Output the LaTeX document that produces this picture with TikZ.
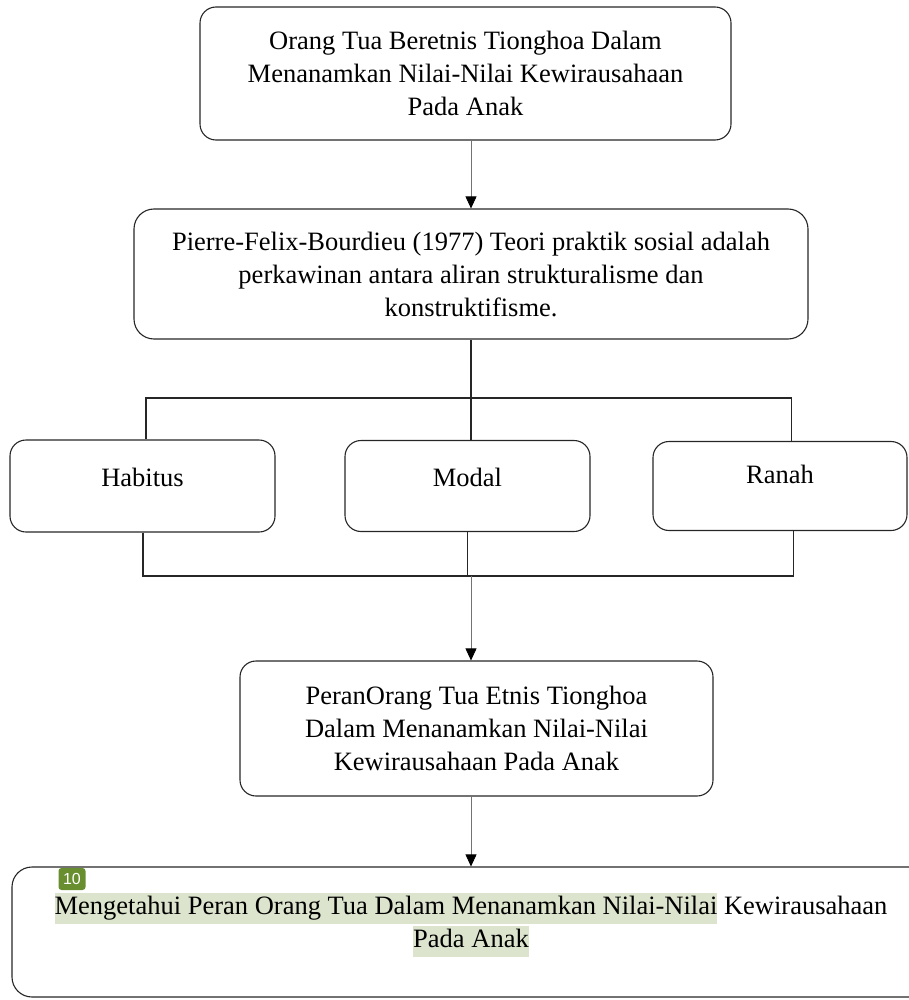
\documentclass[tikz,border=0pt]{standalone}
\usepackage{fontspec}
\setmainfont{Liberation Serif}
\newfontfamily\badgefont{Liberation Sans}
\usepackage{xcolor}
\usetikzlibrary{positioning,arrows.meta}

\definecolor{hlgreen}{RGB}{220,228,205}
\definecolor{badgegreen}{RGB}{104,142,48}
\newcommand{\hlmark}[1]{{\setlength{\fboxsep}{0pt}\colorbox{hlgreen}{\vrule height 22pt depth 9pt width 0pt #1}}}

\tikzset{
  box/.style={draw=black!85, line width=1.1pt, rounded corners=16pt, align=center, inner sep=0pt},
  link/.style={draw=black!55, line width=0.7pt, -{Triangle[length=12pt,width=11pt,color=black]}},
  bus/.style={draw=black!85, line width=1.1pt},
  badge/.style={fill=badgegreen, text=white, rounded corners=3pt, minimum width=27pt, minimum height=22pt, inner sep=0pt, font=\badgefont\fontsize{16}{16}\selectfont}
}

\begin{document}
\begin{tikzpicture}[x=1pt, y=-1pt, font=\fontsize{26.5}{33}\selectfont]
\useasboundingbox (0,0) rectangle (908,1000);
% --- top: theme and theory ---
\node[box, minimum width=531pt, minimum height=133pt] (tema) at (465.5,73.5) {Orang Tua Beretnis Tionghoa Dalam\\Menanamkan Nilai-Nilai Kewirausahaan\\Pada Anak};
\node[box, minimum width=674pt, minimum height=130pt, rounded corners=20pt] (teori) at (471,274) {Pierre-Felix-Bourdieu (1977) Teori praktik sosial adalah\\perkawinan antara aliran strukturalisme dan\\konstruktifisme.};
\draw[link] (tema.south -| teori.north) -- (teori.north);
% --- middle: three concepts ---
\foreach \n/\x/\w/\h/\d/\t in {habitus/142.5/265/92/18/Habitus, modal/467.5/245/91/18/Modal, ranah/780/254/89/23/Ranah}
  \node[box, minimum width=\w pt, minimum height=\h pt, text height=18pt, text depth=\d pt] (\n) at (\x,486) {\t};
\coordinate (topbus) at (471,398);
\coordinate (botbus) at (471,576);
\draw[bus] (teori.south) -- (teori.south |- modal.north);
\draw[bus] ([xshift=3.5pt]habitus.north) |- (topbus) -| ([xshift=11.5pt]ranah.north);
\draw[bus] ([xshift=0.5pt]habitus.south) |- (botbus) -| ([xshift=13.5pt]ranah.south);
\draw[bus] (modal.south) -- (modal.south |- botbus);
% --- bottom: role and aim ---
\node[box, minimum width=473pt, minimum height=135pt] (peran) at (476.5,728.5) {PeranOrang Tua Etnis Tionghoa\\Dalam Menanamkan Nilai-Nilai\\Kewirausahaan Pada Anak};
\node[box, minimum width=918pt, minimum height=130pt, rounded corners=20pt, text depth=24pt] (tujuan) at (471,932) {\hlmark{Mengetahui Peran Orang Tua Dalam Menanamkan Nilai-Nilai} Kewirausahaan\\\hlmark{Pada Anak}};
\node[badge] (nomor) at (72,879) {10};
\draw[link] (botbus) -- (botbus |- peran.north);
\draw[link] (peran.south -| botbus) -- (tujuan.north -| botbus);
\end{tikzpicture}
\end{document}
